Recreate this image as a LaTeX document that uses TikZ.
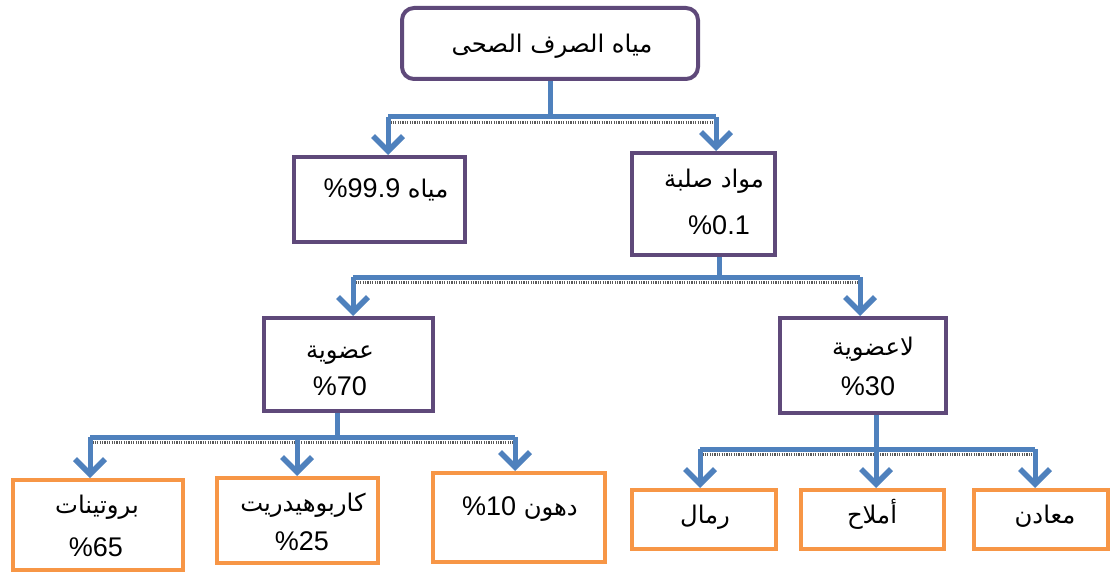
\documentclass[tikz,border=0pt]{standalone}
\usepackage{fontspec}
\setmainfont{Liberation Sans}
\newfontfamily\arabicfont[Script=Arabic,Scale=0.9]{DejaVu Sans}
\TeXXeTstate=1
\usetikzlibrary{arrows.meta,calc}
\definecolor{cpurple}{RGB}{95,73,122}
\definecolor{corange}{RGB}{247,150,70}
\definecolor{cblue}{RGB}{79,129,189}
\newcommand{\artxt}[1]{{\arabicfont\beginR #1\endR}}
\tikzset{
  pbox/.style={draw=cpurple, line width=4pt, fill=white, inner sep=0pt},
  obox/.style={draw=corange, line width=4pt, fill=white, inner sep=0pt},
  lbl/.style={anchor=base, inner sep=0pt, font=\fontsize{27}{32}\selectfont},
  conn/.style={draw=cblue, line width=5pt},
  arr/.style={draw=cblue, line width=5pt, -{Straight Barb[length=15pt,width=30pt,line width=5.5pt]}},
  hatch/.style={draw=black!65, line width=3pt, dash pattern=on 1.2pt off 1.2pt}
}
\begin{document}
\begin{tikzpicture}[x=1pt,y=-1pt]
\useasboundingbox[fill=white] (0,0) rectangle (1112,575);
% boxes
\node[pbox, rounded corners=12pt, minimum width=296pt, minimum height=71pt] (top) at (550,43.5) {};
\node[pbox, minimum width=171pt, minimum height=85pt] (water) at (379.5,199.5) {};
\node[pbox, minimum width=143pt, minimum height=102pt] (solid) at (703.5,204) {};
\node[pbox, minimum width=169pt, minimum height=93pt] (organic) at (348.5,364.5) {};
\node[pbox, minimum width=166pt, minimum height=95pt] (inorganic) at (863,365.5) {};
\node[obox, minimum width=170pt, minimum height=90pt] (protein) at (98,525) {};
\node[obox, minimum width=161pt, minimum height=85pt] (carb) at (297.5,520.5) {};
\node[obox, minimum width=172pt, minimum height=89pt] (fats) at (519,517.5) {};
\node[obox, minimum width=144pt, minimum height=59pt] (sands) at (704,519.5) {};
\node[obox, minimum width=143pt, minimum height=59pt] (salts) at (872.5,519.5) {};
\node[obox, minimum width=134pt, minimum height=59pt] (minerals) at (1041,519.5) {};
% labels
\node[lbl] (ttop) at (552,53) {\artxt{مياه الصرف الصحى}};
\node[lbl] (twater) at (386,197) {\%99.9 \artxt{مياه}};
\node[lbl] (tsolid1) at (714,188) {\artxt{مواد صلبة}};
\node[lbl] (tsolid2) at (719,234) {\%0.1};
\node[lbl] (torg1) at (340,358) {\artxt{عضوية}};
\node[lbl] (torg2) at (340,395) {\%70};
\node[lbl] (tinorg1) at (873,355) {\artxt{لاعضوية}};
\node[lbl] (tinorg2) at (868,395) {\%30};
\node[lbl] (tprot1) at (97,513) {\artxt{بروتينات}};
\node[lbl] (tprot2) at (96,556) {\%65};
\node[lbl] (tcarb1) at (303,511) {\artxt{كاربوهيدريت}};
\node[lbl] (tcarb2) at (302,550) {\%25};
\node[lbl] (tfats) at (520,515) {\%10 \artxt{دهون}};
\node[lbl] (tsands) at (705,523) {\artxt{رمال}};
\node[lbl] (tsalts) at (872,523) {\artxt{أملاح}};
\node[lbl] (tmin) at (1045,523) {\artxt{معادن}};
% junction coordinates
\coordinate (j1) at (550,117);
\coordinate (j1L) at (388,117);
\coordinate (j1R) at (716,117);
\coordinate (j2) at (719,277);
\coordinate (j2L) at (353,277);
\coordinate (j2R) at (860,277);
\coordinate (j3) at (337,437);
\coordinate (j3L) at (90,437);
\coordinate (j3M) at (297,437);
\coordinate (j3R) at (515,437);
\coordinate (j4) at (876,449);
\coordinate (j4L) at (700,449);
\coordinate (j4R) at (1035,449);
% bus hatches
\draw[hatch] ($(j1L)+(0,5.5)$) -- ($(j1R)+(0,5.5)$);
\draw[hatch] ($(j2L)+(0,5.5)$) -- ($(j2R)+(0,5.5)$);
\draw[hatch] ($(j3L)+(0,5.5)$) -- ($(j3R)+(0,5.5)$);
\draw[hatch] ($(j4L)+(0,5.5)$) -- ($(j4R)+(0,5.5)$);
% connectors
\draw[conn] (top.south) -- (j1);
\draw[conn] (j1L) -- (j1R);
\draw[arr] (j1L) -- (water.north -| j1L);
\draw[arr] (j1R) -- (solid.north -| j1R);
\draw[conn] (solid.south -| j2) -- (j2);
\draw[conn] (j2L) -- (j2R);
\draw[arr] (j2L) -- (organic.north -| j2L);
\draw[arr] (j2R) -- (inorganic.north -| j2R);
\draw[conn] (organic.south -| j3) -- (j3);
\draw[conn] (j3L) -- (j3R);
\draw[arr] (j3L) -- (protein.north -| j3L);
\draw[arr] (j3M) -- (carb.north -| j3M);
\draw[arr] (j3R) -- (fats.north -| j3R);
\draw[conn] (inorganic.south -| j4) -- (j4);
\draw[conn] (j4L) -- (j4R);
\draw[arr] (j4L) -- (sands.north -| j4L);
\draw[arr] (j4) -- (salts.north -| j4);
\draw[arr] (j4R) -- (minerals.north -| j4R);
\end{tikzpicture}
\end{document}
